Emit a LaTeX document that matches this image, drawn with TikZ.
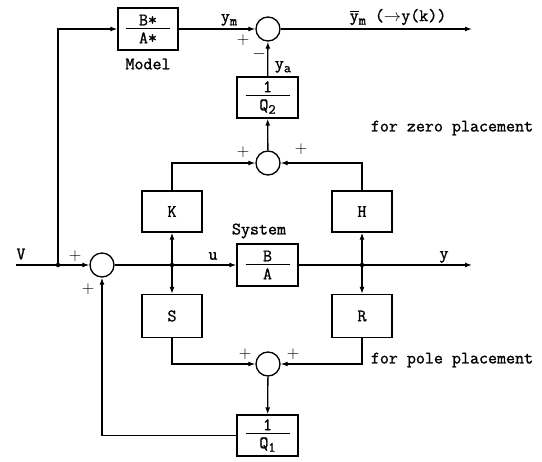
\documentclass[tikz,border=0pt]{standalone}
\usepackage{amsmath}
\usepackage{fontspec}
\newfontfamily\tyf{Latin Modern Mono}[FakeBold=1.2]
\usetikzlibrary{arrows.meta}
\newcommand{\myfr}[2]{$\vcenter{\hbox to 44pt{\hss #1\hss}\kern2.5pt\hrule height 1.1pt\kern3.5pt\hbox to 44pt{\hss #2\hss}}$}
\newcommand{\mysub}[1]{\raisebox{-3.5pt}{\fontsize{14}{14}\selectfont #1}}
\begin{document}
\begin{tikzpicture}[x=1pt,y=-1pt,
  every node/.style={font=\fontsize{17.5}{20}\tyf\bfseries},
  blk/.style={draw, line width=1.3pt, minimum width=60pt, minimum height=42pt, inner sep=0pt},
  sumc/.style={draw, circle, line width=1.3pt, minimum size=24pt, inner sep=0pt},
  jdot/.style={circle, fill, inner sep=0pt, minimum size=4.5pt},
  sgn/.style={inner sep=0pt, font=\fontsize{16}{16}\selectfont},
  lbl/.style={inner sep=0pt},
  wire/.style={line width=1.3pt},
  arr/.style={wire, -{Latex[length=7pt,width=5pt]}},
]
\useasboundingbox (0,0) rectangle (542,462);
% blocks and summing points
\node[blk] (model) at (148,29) {\myfr{B*}{A*}};
\node[lbl] (modellbl) at (148,64) {Model};
\node[sumc] (s1) at (268,29) {};
\node[blk, minimum width=61pt, minimum height=41pt] (q2) at (267.5,97.5) {\myfr{1}{Q\mysub{2}}};
\node[sumc] (s2) at (268,163) {};
\node[blk, minimum height=41pt] (K) at (172,211.5) {K};
\node[blk, minimum height=41pt] (H) at (362,211.5) {H};
\coordinate (vin) at (16,265);
\node[jdot] (j0) at (58,265) {};
\node[sumc] (s0) at (102,265) {};
\node[jdot] (j1) at (172,265) {};
\node[blk, minimum width=61pt] (sys) at (267.5,265) {\myfr{B}{A}};
\node[jdot] (j2) at (362,265) {};
\coordinate (yout) at (472,265);
\node[blk, minimum height=43pt] (S) at (172,316) {S};
\node[blk, minimum height=43pt] (R) at (362,316) {R};
\node[sumc] (s3) at (268,364) {};
\node[blk, minimum width=61pt, minimum height=41pt] (q1) at (267.5,435.5) {\myfr{1}{Q\mysub{1}}};
\coordinate (ymout) at (472,29);
% connectors
\draw[wire] (vin) -- (j0);
\draw[arr] (j0) -- (s0);
\draw[arr] (j0) |- (model);
\draw[arr] (model) -- (s1);
\draw[arr] (s1) -- (ymout);
\draw[arr] (q2) -- (s1);
\draw[arr] (s2) -- (q2);
\draw[arr] (K.north) |- (s2);
\draw[arr] (H.north) |- (s2);
\draw[wire] (s0) -- (j1);
\draw[arr] (j1) -- (sys);
\draw[arr] (j1) -- (K);
\draw[arr] (j1) -- (S);
\draw[wire] (sys) -- (j2);
\draw[arr] (j2) -- (yout);
\draw[arr] (j2) -- (H);
\draw[arr] (j2) -- (R);
\draw[arr] (S.south) |- (s3);
\draw[arr] (R.south) |- (s3);
\draw[arr] (s3) -- (q1);
\draw[arr] (q1.west) -| (s0);
% labels
\node[lbl] (lym) at (229,20) {y\mysub{m}};
\node[lbl] (lya) at (283,67) {y\mysub{a}};
\node[lbl] (lout) at (398,17) {$\overline{\hbox{y}}$\mysub{m} ($\to$y(k))};
\node[lbl] (lzero) at (452,128) {for zero placement};
\node[lbl] (lpole) at (452,360) {for pole placement};
\node[lbl] (lsys) at (259,231) {System};
\node[lbl] (lv) at (21,254) {V};
\node[lbl] (lu) at (213,256) {u};
\node[lbl] (ly) at (444,257) {y};
\node[sgn] (p1) at (243,40) {$+$};
\node[sgn] (m1) at (259,54) {$-$};
\node[sgn] (p2) at (243,152) {$+$};
\node[sgn] (p3) at (301,149) {$+$};
\node[sgn] (p4) at (75,256) {$+$};
\node[sgn] (p5) at (88,289) {$+$};
\node[sgn] (p6) at (245,354) {$+$};
\node[sgn] (p7) at (293,354) {$+$};
\end{tikzpicture}
\end{document}
